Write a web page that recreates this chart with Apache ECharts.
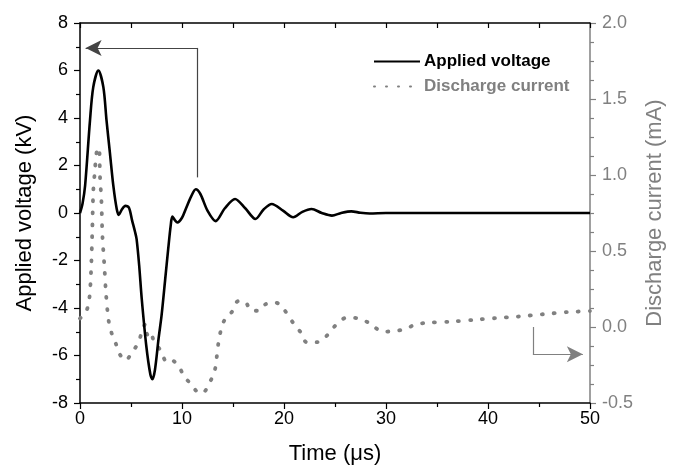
<!DOCTYPE html>
<html>
<head>
<meta charset="utf-8">
<script src="https://cdn.jsdelivr.net/npm/echarts@6/dist/echarts.min.js"></script>
<style>
html, body { margin: 0; padding: 0; background: #fff; }
#chart { width: 678px; height: 470px; }
</style>
</head>
<body>
<div id="chart"></div>
<script>
var FONT = "'Liberation Sans', Arial, sans-serif";
var GRAY = '#808080';

// applied voltage (kV) vs time (us)
var timeV = [0, 0.25, 0.5, 0.98, 1.3, 1.8, 2.29, 2.6, 2.94, 3.27, 3.6, 3.8, 4.1, 4.45, 4.8, 5.1, 5.4, 5.55, 5.8, 6.05,
    6.5, 6.9, 7.1, 7.35, 7.7, 8.0, 8.35, 8.65, 8.9, 9.05, 9.3, 9.55, 10.0, 10.4, 10.9, 11.35, 11.8, 12.5, 13.3, 14.2,
    15.2, 16.2, 17.2, 18.0, 18.8, 19.9, 20.9, 21.8, 22.7, 23.7, 24.7, 25.6, 26.6, 27.5, 28.4, 30, 35, 40, 45, 50];
var voltage = [0, 0.4, 1.15, 3.9, 5.3, 6.0, 5.3, 3.9, 2.5, 1.14, 0.17, -0.08, 0.15, 0.3, 0.22, -0.3, -0.8, -1.1, -2.2, -3.6,
    -5.6, -6.8, -7.0, -6.6, -5.3, -4.3, -2.8, -1.5, -0.5, -0.15, -0.3, -0.4, -0.2, 0.2, 0.7, 1.0, 0.8, 0.1, -0.34, 0.2,
    0.59, 0.2, -0.25, 0.15, 0.38, 0.1, -0.18, 0.05, 0.17, 0.0, -0.11, 0.0, 0.07, 0.01, -0.02, 0, 0, 0, 0, 0];

// discharge current (mA) vs time (us)
var timeI = [0, 0.65, 0.92, 1.08, 1.2, 1.3, 1.45, 1.63, 1.86, 1.96, 2.1, 2.2, 2.4, 2.55, 2.8, 3.1, 3.5, 3.9, 4.5, 5.05,
    5.7, 6.05, 6.4, 6.6, 6.95, 7.2, 7.95, 8.5, 9.0, 9.7, 10.2, 10.8, 11.4, 12.0, 12.75, 13.2, 13.4, 13.56, 13.8, 14.2,
    14.9, 15.5, 16.2, 16.8, 17.5, 18.2, 19.2, 20.0, 21.0, 21.7, 22.2, 23.2, 24.0, 24.7, 25.4, 26.2, 27.3, 28.3, 28.8, 29.7,
    30.9, 32, 32.9, 34.1, 36.4, 38.8, 40.7, 43.0, 45.4, 47.8, 50];
var current = [0.056, 0.11, 0.19, 0.36, 0.62, 0.89, 1.02, 1.15, 1.18, 0.99, 0.83, 0.6, 0.39, 0.22, 0.045, -0.04, -0.107, -0.18, -0.22, -0.17,
    -0.107, -0.035, 0.02, -0.05, -0.03, -0.086, -0.16, -0.23, -0.22, -0.26, -0.325, -0.37, -0.42, -0.435, -0.36, -0.29, -0.2, -0.11, -0.025, 0.05,
    0.10, 0.17, 0.165, 0.107, 0.107, 0.15, 0.16, 0.115, 0.017, -0.04, -0.10, -0.10, -0.07, -0.016, 0.035, 0.063, 0.056, 0.028, 0.002, -0.03,
    -0.027, -0.01, 0.017, 0.028, 0.035, 0.048, 0.058, 0.069, 0.084, 0.098, 0.105];

// arrow annotations, in data units: corner, start, tip
var arrowV = [[11.47, 1.5], [11.47, 6.95], [0.55, 6.95]];
var arrowI = [[44.4, 0.0], [44.4, -0.18], [49.3, -0.18]];

var xTicks = [0, 50, 10];
var vTicks = [-8, 8, 2];
var iTicks = [-0.5, 2.0, 0.5];

function pairs(xs, ys) {
    return xs.map(function (x, i) { return [x, ys[i]]; });
}

function arrowLines(pts, size) {
    return [
        [{coord: pts[0], symbol: 'none'}, {coord: pts[1], symbol: 'none'}],
        [{coord: pts[1], symbol: 'none'}, {coord: pts[2], symbol: 'arrow', symbolSize: size}]
    ];
}

var chart = echarts.init(document.getElementById('chart'));
var option = {
    animation: false,
    textStyle: {fontFamily: FONT},
    grid: {left: 80, right: 88, top: 23, bottom: 65},
    legend: {
        orient: 'vertical',
        left: 368,
        top: 48,
        itemWidth: 46,
        itemHeight: 14,
        itemGap: 8,
        itemStyle: {opacity: 0},
        textStyle: {fontFamily: FONT, fontSize: 17, fontWeight: 'bold', padding: [0, 0, 0, -1]},
        data: [
            {name: 'Applied voltage', textStyle: {color: '#000'}},
            {name: 'Discharge current', textStyle: {color: GRAY}}
        ]
    },
    xAxis: [{
        type: 'value',
        min: xTicks[0], max: xTicks[1], interval: xTicks[2],
        name: 'Time (\u03bcs)',
        nameLocation: 'middle',
        nameGap: 40,
        nameTextStyle: {fontSize: 22, color: '#000', fontFamily: FONT},
        axisLine: {show: true, onZero: false, lineStyle: {color: '#000', width: 1.5}},
        axisTick: {show: true, length: 6, lineStyle: {color: '#000', width: 1.2}},
        minorTick: {show: true, splitNumber: 2, length: 4, lineStyle: {color: '#000', width: 1.2}},
        axisLabel: {fontSize: 18, color: '#000', margin: 7},
        splitLine: {show: false}
    }, {
        type: 'value',
        position: 'top',
        min: xTicks[0], max: xTicks[1], interval: 5,
        axisLine: {show: true, onZero: false, lineStyle: {color: '#000', width: 1.5}},
        axisTick: {show: true, inside: true, length: 5, lineStyle: {color: '#000', width: 1.2}},
        axisLabel: {show: false},
        splitLine: {show: false}
    }],
    yAxis: [{
        type: 'value',
        min: vTicks[0], max: vTicks[1], interval: vTicks[2],
        name: 'Applied voltage (kV)',
        nameLocation: 'middle',
        nameRotate: 90,
        nameGap: 44,
        nameTextStyle: {fontSize: 22, color: '#000', fontFamily: FONT},
        axisLine: {show: true, onZero: false, lineStyle: {color: '#000', width: 1.5}},
        axisTick: {show: true, length: 6, lineStyle: {color: '#000', width: 1.2}},
        minorTick: {show: true, splitNumber: 2, length: 4, lineStyle: {color: '#000', width: 1.2}},
        axisLabel: {fontSize: 18, color: '#000', margin: 12},
        splitLine: {show: false}
    }, {
        type: 'value',
        position: 'right',
        min: iTicks[0], max: iTicks[1], interval: iTicks[2],
        name: 'Discharge current (mA)',
        nameLocation: 'middle',
        nameRotate: 90,
        nameGap: 53,
        nameTextStyle: {fontSize: 22, color: GRAY, fontFamily: FONT},
        axisLine: {show: true, onZero: false, lineStyle: {color: GRAY, width: 1.5}},
        axisTick: {show: true, length: 6, lineStyle: {color: GRAY, width: 1.2}},
        minorTick: {show: true, splitNumber: 4, length: 4, lineStyle: {color: GRAY, width: 1.2}},
        axisLabel: {fontSize: 18, color: GRAY, margin: 12, formatter: function (v) { return v.toFixed(1); }},
        splitLine: {show: false}
    }],
    series: [{
        name: 'Discharge current',
        type: 'line',
        yAxisIndex: 1,
        data: pairs(timeI, current),
        symbol: 'none',
        smooth: 0.3,
        lineStyle: {color: GRAY, width: 3.8, type: [1, 11], cap: 'round'},
        itemStyle: {color: GRAY},
        markLine: {
            silent: true,
            symbol: 'none',
            label: {show: false},
            lineStyle: {color: GRAY, width: 1.2, type: 'solid'},
            data: arrowLines(arrowI, [12, 16])
        }
    }, {
        name: 'Applied voltage',
        type: 'line',
        yAxisIndex: 0,
        data: pairs(timeV, voltage),
        symbol: 'none',
        smooth: 0.3,
        lineStyle: {color: '#000', width: 2.6},
        itemStyle: {color: '#000'},
        markLine: {
            silent: true,
            symbol: 'none',
            label: {show: false},
            lineStyle: {color: '#444', width: 1.2, type: 'solid'},
            data: arrowLines(arrowV, [12, 16])
        }
    }]
};
chart.setOption(option);
</script>
</body>
</html>
